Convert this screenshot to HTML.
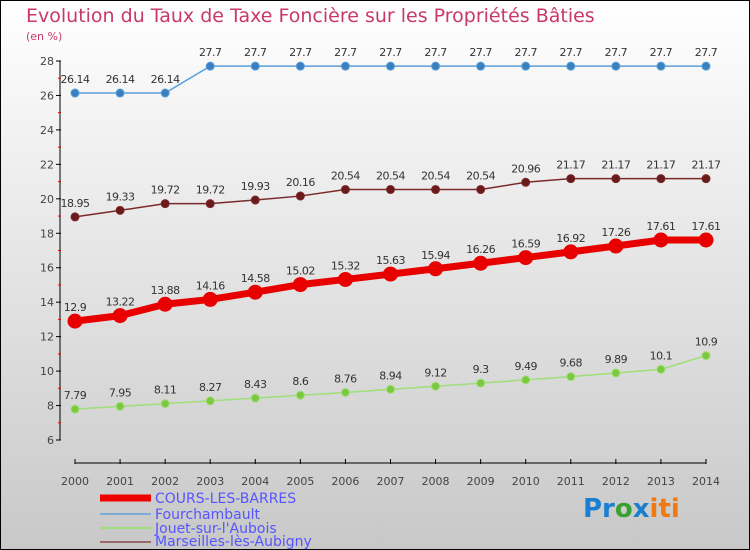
<!DOCTYPE html>
<html><head><meta charset="utf-8"><style>
body{margin:0}
#c{width:750px;height:550px;position:relative;background:linear-gradient(#ffffff,#c8c8c8);box-sizing:border-box;border:1px solid #000;overflow:hidden;font-family:"DejaVu Sans","Liberation Sans",sans-serif}
</style></head><body>
<div id="c">
<svg id="s" width="750" height="550" style="position:absolute;left:-1px;top:-1px">
<text x="26" y="22" font-size="19" fill="#c8386a">Evolution du Taux de Taxe Foncière sur les Propriétés Bâties</text>
<text x="26" y="40" font-size="11" fill="#c8386a">(en %)</text>
<g id="ax"></g><g id="ser"></g>
<g>
<line x1="100" y1="498" x2="151" y2="498" stroke="#e00" stroke-width="7"/>
<text x="155" y="503" font-size="14" fill="#5555ff">COURS-LES-BARRES</text>
<line x1="100" y1="514" x2="151" y2="514" stroke="#7aaed8" stroke-width="2"/>
<text x="155" y="519" font-size="14" fill="#5555ff">Fourchambault</text>
<line x1="100" y1="528" x2="151" y2="528" stroke="#a0de78" stroke-width="2"/>
<text x="155" y="533" font-size="14" fill="#5555ff">Jouet-sur-l'Aubois</text>
<line x1="100" y1="542" x2="151" y2="542" stroke="#9a6a6a" stroke-width="2"/>
<text x="155" y="546" font-size="14" fill="#5555ff">Marseilles-lès-Aubigny</text>
</g>
<text x="583" y="517" font-size="26" font-weight="bold"><tspan fill="#1a7fd0">Pr</tspan><tspan fill="#3aa030">o</tspan><tspan fill="#1a7fd0">x</tspan><tspan fill="#f07a10">iti</tspan></text>
</svg>
</div>
<script>
const years=[2000,2001,2002,2003,2004,2005,2006,2007,2008,2009,2010,2011,2012,2013,2014];
const cours=[12.9,13.22,13.88,14.16,14.58,15.02,15.32,15.63,15.94,16.26,16.59,16.92,17.26,17.61,17.61];
const fourch=[26.14,26.14,26.14,27.7,27.7,27.7,27.7,27.7,27.7,27.7,27.7,27.7,27.7,27.7,27.7];
const jouet=[7.79,7.95,8.11,8.27,8.43,8.6,8.76,8.94,9.12,9.3,9.49,9.68,9.89,10.1,10.9];
const marseilles=[18.95,19.33,19.72,19.72,19.93,20.16,20.54,20.54,20.54,20.54,20.96,21.17,21.17,21.17,21.17];
const yTicks=[6,8,10,12,14,16,18,20,22,24,26,28];
const NS="http://www.w3.org/2000/svg";
const X=i=>75+i*(706-75)/(years.length-1);
const Y=v=>440-(v-6)*(440-61)/22;
function mk(t,a,p){const e=document.createElementNS(NS,t);for(const k in a)e.setAttribute(k,a[k]);p.appendChild(e);return e;}
const ax=document.getElementById('ax'),ser=document.getElementById('ser');
let l=mk('line',{x1:60,y1:Y(28),x2:60,y2:Y(6),stroke:'#000'},ax);


yTicks.forEach(v=>{
 const t=mk('line',{x1:56,y1:Y(v),x2:61,y2:Y(v),stroke:'#000'},ax);
 
 
 const m=mk('line',{x1:58,y1:Y(v+1),x2:61,y2:Y(v+1),stroke:'#e00'},ax);
 if(v===28)m.remove();
 
 
 const tx=mk('text',{x:54,y:Y(v)+4,'font-size':11,fill:'#444','text-anchor':'end'},ax);tx.textContent=v;
 
 
});
l=mk('line',{x1:75,y1:463,x2:706,y2:463,stroke:'#000'},ax);


years.forEach((y,i)=>{
 const t=mk('line',{x1:X(i),y1:459,x2:X(i),y2:464,stroke:'#000'},ax);
 
 
 const tx=mk('text',{x:X(i),y:485,'font-size':11,fill:'#444','text-anchor':'middle'},ax);tx.textContent=y;
 
 
});
function series(d,name,col,w,r,dot){
 const g=mk('g',{},ser);
 
 
 const p=mk('polyline',{points:d.map((v,i)=>X(i)+','+Y(v)).join(' '),fill:'none',stroke:col,'stroke-width':w},g);
 
 
 d.forEach((v,i)=>{
  const c=mk('circle',{cx:X(i),cy:Y(v),r:r,fill:dot,stroke:col,'stroke-width':1},g);
  
  
  const t=mk('text',{x:X(i),y:Y(v)-10,'font-size':11,fill:'#333','text-anchor':'middle','letter-spacing':'-0.5'},g);
  t.textContent=v;
  
  
 });
}
series(fourch,'fourchambault','#5a9fd8',1.5,4,'#3a80c0');
series(marseilles,'marseilles','#7a2a2a',1.5,4,'#6a1a1a');
series(jouet,'jouet','#a0de78',1.5,4,'#7cc840');
series(cours,'cours','#e80000',7,7,'#e80000');
</script>
</body></html>
